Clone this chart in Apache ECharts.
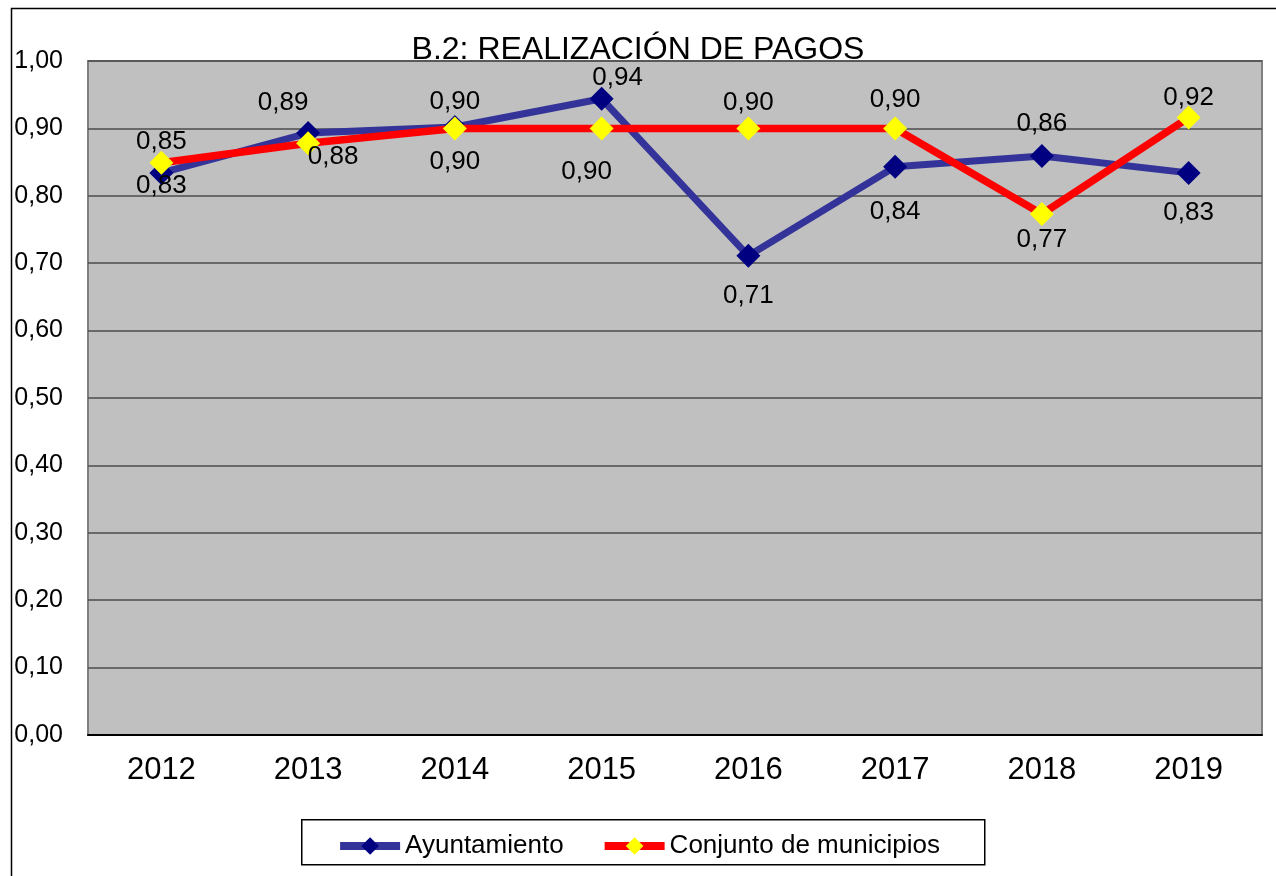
<!DOCTYPE html>
<html>
<head>
<meta charset="utf-8">
<script src="https://cdn.jsdelivr.net/npm/echarts@6/dist/echarts.min.js"></script>
<style>
html,body{margin:0;padding:0;background:#fff;}
#chart{width:1276px;height:876px;}
</style>
</head>
<body>
<div id="chart"></div>
<script>
const titleText = 'B.2: REALIZACIÓN DE PAGOS';
const years = ['2012','2013','2014','2015','2016','2017','2018','2019'];
const ayuntamiento = [0.834, 0.893, 0.902, 0.944, 0.711, 0.843, 0.859, 0.834];
const conjunto = [0.849, 0.878, 0.900, 0.900, 0.900, 0.900, 0.773, 0.916];
const seriesNames = ['Ayuntamiento', 'Conjunto de municipios'];

// label placement (layout only, offsets from the marker centre)
const ayuntLabelOffsets = [[0,13],[-25,-30],[0,-25],[16,-21],[0,40],[0,45],[0,-32],[0,40]];
const conjLabelOffsets = [[0,-21],[25,14],[0,33],[-15,43],[0,-26],[0,-29],[0,26],[0,-20]];

const fmt = v => v.toFixed(2).replace('.', ',');
const FONT = '"Liberation Sans", Arial, sans-serif';

function buildData(values, offsets) {
  return values.map((v, i) => ({
    value: v,
    label: { offset: offsets[i] }
  }));
}

const chart = echarts.init(document.getElementById('chart'), null, { renderer: 'canvas' });
chart.setOption({
  backgroundColor: '#ffffff',
  animation: false,
  textStyle: { fontFamily: FONT },
  title: {
    text: titleText,
    left: 'center',
    top: 29,
    textStyle: { fontFamily: FONT, fontSize: 32, fontWeight: 'normal', color: '#000' }
  },
  graphic: [
    { type: 'rect', left: 9, top: 6, shape: { width: 1266, height: 900 },
      style: { fill: 'none', stroke: '#000', lineWidth: 1.5 }, z: 100, silent: true },
    { type: 'rect', left: 301, top: 819, shape: { width: 683, height: 45 },
      style: { fill: '#fff', stroke: '#000', lineWidth: 1.5 }, z: 1, silent: true }
  ],
  legend: {
    data: seriesNames,
    left: 'center',
    top: 828,
    itemWidth: 60,
    itemHeight: 22,
    itemGap: 37,
    lineStyle: { width: 8 },
    textStyle: { fontFamily: FONT, fontSize: 26, color: '#000' },
    z: 5
  },
  grid: {
    left: 88, right: 14, top: 61, bottom: 141,
    show: true,
    backgroundColor: '#c0c0c0',
    borderColor: '#808080',
    borderWidth: 2,
    containLabel: false
  },
  xAxis: {
    type: 'category',
    data: years,
    boundaryGap: true,
    axisLine: { show: true, lineStyle: { color: '#000', width: 2 } },
    axisTick: { show: false },
    axisLabel: { margin: 20, fontSize: 31, color: '#000', fontFamily: FONT },
    splitLine: { show: false }
  },
  yAxis: {
    type: 'value',
    min: 0, max: 1, interval: 0.1,
    axisLine: { show: false },
    axisTick: { show: false },
    axisLabel: { margin: 25, fontSize: 25, color: '#000', fontFamily: FONT, formatter: v => fmt(v) },
    splitLine: { show: true, lineStyle: { color: '#4d4d4d', width: 1.5 } }
  },
  series: [
    {
      name: seriesNames[0],
      type: 'line',
      data: buildData(ayuntamiento, ayuntLabelOffsets),
      symbol: 'diamond',
      symbolSize: 24,
      lineStyle: { color: '#333399', width: 7 },
      itemStyle: { color: '#000080' },
      label: { show: true, position: 'inside', fontSize: 26, color: '#000', fontFamily: FONT,
               formatter: p => fmt(p.value) },
      z: 2
    },
    {
      name: seriesNames[1],
      type: 'line',
      data: buildData(conjunto, conjLabelOffsets),
      symbol: 'diamond',
      symbolSize: 24,
      lineStyle: { color: '#ff0000', width: 7.5 },
      itemStyle: { color: '#ffff00' },
      label: { show: true, position: 'inside', fontSize: 26, color: '#000', fontFamily: FONT,
               formatter: p => fmt(p.value) },
      z: 3
    }
  ]
});
</script>
</body>
</html>
